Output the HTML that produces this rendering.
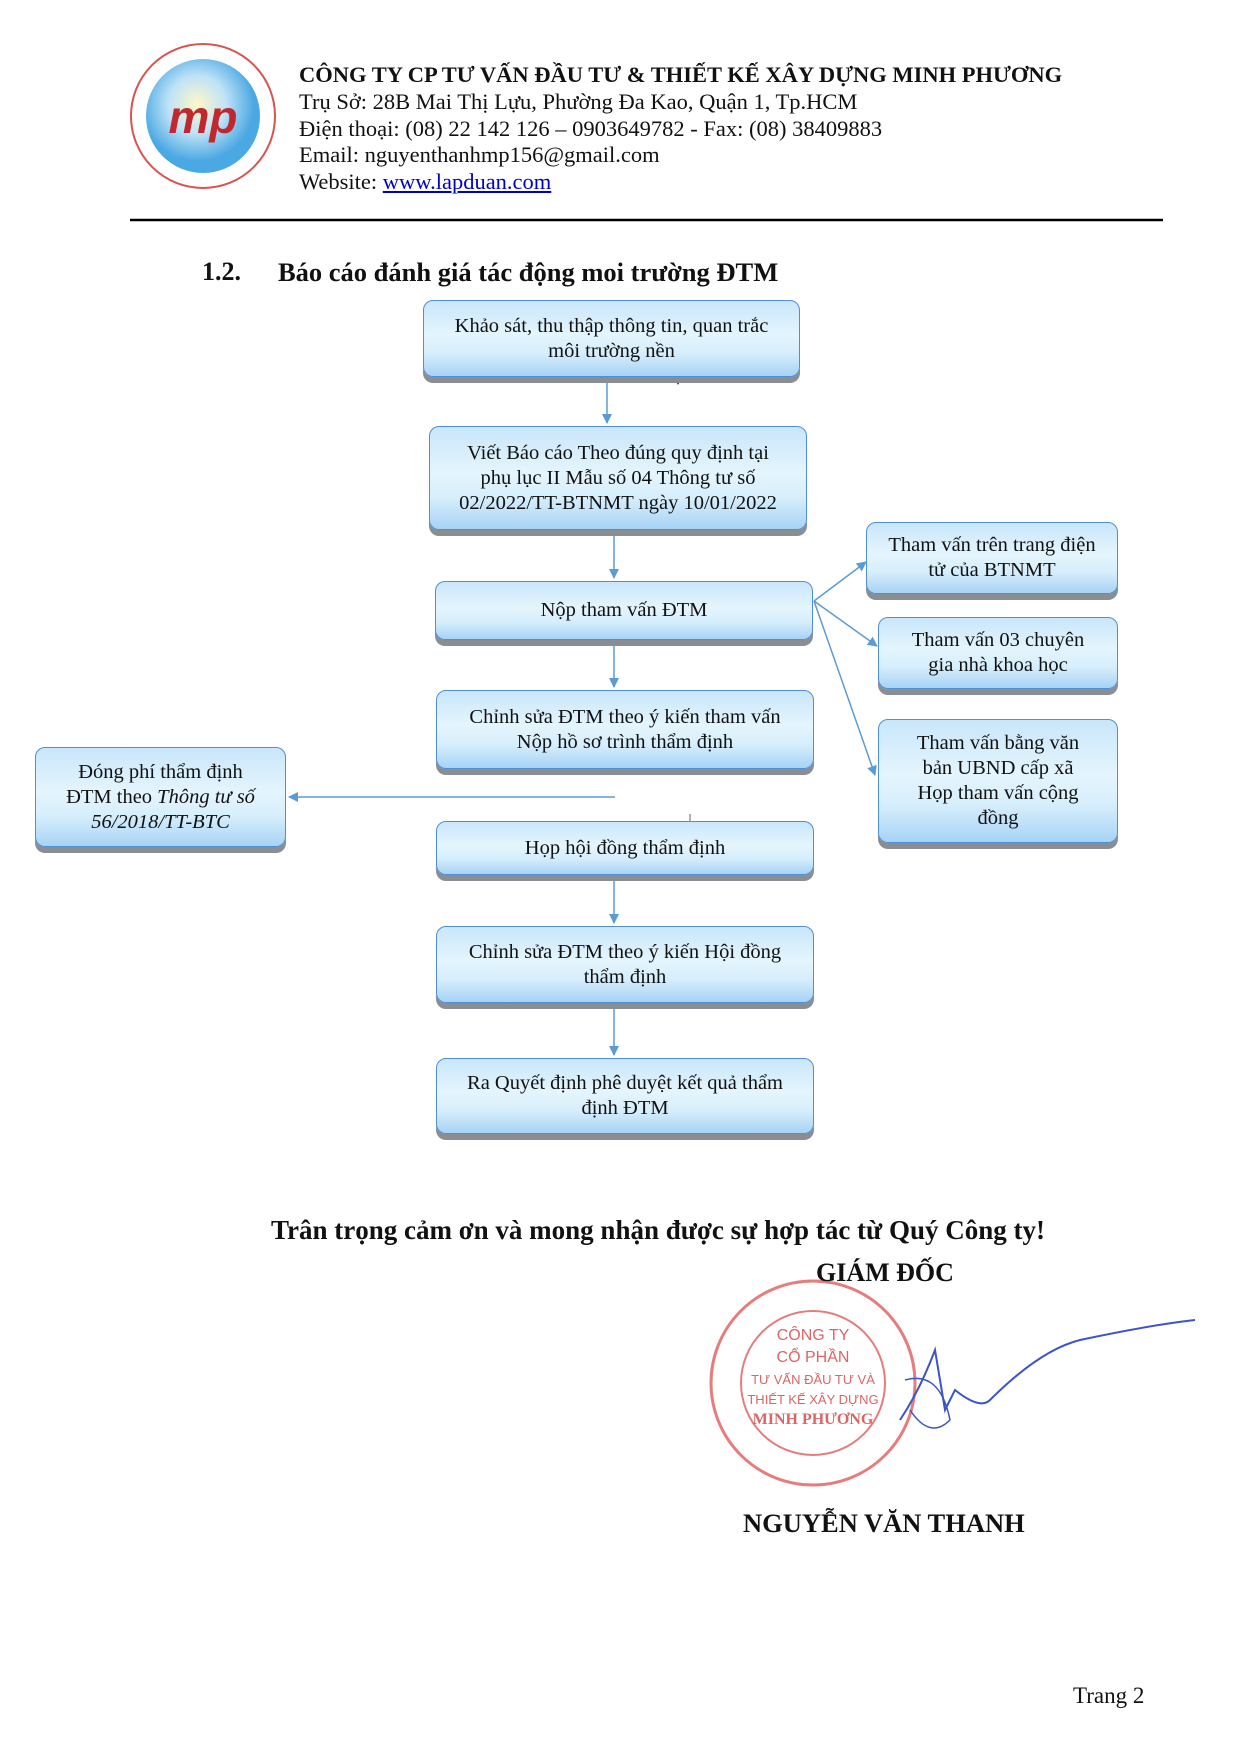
<!DOCTYPE html>
<html><head><meta charset="utf-8"><style>
body{margin:0;width:1241px;height:1754px;background:#fff;position:relative;font-family:"Liberation Serif","Noto Serif CJK SC",serif;color:#111;overflow:hidden}
.a{position:absolute;white-space:nowrap}
.b{position:absolute;box-sizing:border-box;border:1.5px solid #4f8fd8;border-radius:10px;background:linear-gradient(#c9e6fb 0%,#e4f5fd 45%,#d6eefc 70%,#a7d3f5 100%);box-shadow:0 6px 0 #8a8e93;display:flex;align-items:center;justify-content:center;text-align:center;font-size:20.5px;line-height:25px;padding:0 6px;white-space:nowrap}
.h{font-size:22.5px;line-height:27px}
</style></head><body>
<svg class="a" style="left:0;top:0" width="1241" height="1754">
<defs><marker id="m" markerWidth="10" markerHeight="10" refX="9" refY="5" orient="auto" markerUnits="userSpaceOnUse"><path d="M0,0 L10,5 L0,10 z" fill="#5b9bd5"/></marker>
<radialGradient id="g" cx="45%" cy="40%"><stop offset="0" stop-color="#fff7c8"/><stop offset=".5" stop-color="#bfe3f7"/><stop offset="1" stop-color="#4aa8e3"/></radialGradient></defs>
<circle cx="203" cy="116" r="72" fill="#fff" stroke="#d9534f" stroke-width="2"/>
<circle cx="203" cy="116" r="57" fill="url(#g)"/>
<text x="203" y="133" font-family="Liberation Sans" font-weight="bold" font-style="italic" font-size="46" fill="#c0282d" text-anchor="middle">mp</text>
<line x1="130" y1="220" x2="1163" y2="220" stroke="#000" stroke-width="2.5"/>
<g stroke="#5b9bd5" stroke-width="1.5" fill="none">
<line x1="607" y1="380" x2="607" y2="423" marker-end="url(#m)"/>
<line x1="614" y1="534" x2="614" y2="578" marker-end="url(#m)"/>
<line x1="614" y1="642" x2="614" y2="687" marker-end="url(#m)"/>
<line x1="615" y1="797" x2="289" y2="797" marker-end="url(#m)"/>
<line x1="614" y1="877" x2="614" y2="923" marker-end="url(#m)"/>
<line x1="614" y1="1005" x2="614" y2="1055" marker-end="url(#m)"/>
<line x1="814" y1="601" x2="866" y2="562" marker-end="url(#m)"/>
<line x1="814" y1="601" x2="877" y2="646" marker-end="url(#m)"/>
<line x1="814" y1="601" x2="875" y2="775" marker-end="url(#m)"/>
<line x1="690" y1="814" x2="690" y2="821" stroke="#999"/>
</g>
<path d="M674,377 L682,377 L678,385 z" fill="#111"/>
<circle cx="813" cy="1383" r="102" fill="none" stroke="#e05b5b" stroke-width="3" opacity=".8"/>
<circle cx="813" cy="1383" r="72" fill="none" stroke="#e05b5b" stroke-width="2" opacity=".8"/>
<g font-family="Liberation Sans" font-size="16" fill="#d84a4a" text-anchor="middle" opacity=".85">
<text x="813" y="1340">CÔNG TY</text><text x="813" y="1362">CỔ PHẦN</text><text x="813" y="1384" font-size="13">TƯ VẤN ĐẦU TƯ VÀ</text><text x="813" y="1404" font-size="13">THIẾT KẾ XÂY DỰNG</text><text x="813" y="1424" font-family="Liberation Serif" font-weight="bold">MINH PHƯƠNG</text></g>
<path d="M900,1420 Q920,1390 935,1350 L945,1410 L955,1390 Q980,1410 990,1400 Q1040,1350 1080,1340 Q1150,1325 1195,1320" fill="none" stroke="#3b55c8" stroke-width="2"/>
<path d="M905,1380 Q940,1370 950,1420 Q930,1440 910,1410" fill="none" stroke="#3b55c8" stroke-width="1.5"/>
</svg>
<div class="a h" style="left:299px;top:61px;font-weight:bold">CÔNG TY CP TƯ VẤN ĐẦU TƯ &amp; THIẾT KẾ XÂY DỰNG MINH PHƯƠNG</div>
<div class="a h" style="left:299px;top:88px">Trụ Sở: 28B Mai Thị Lựu, Phường Đa Kao, Quận 1, Tp.HCM</div>
<div class="a h" style="left:299px;top:115px">Điện thoại: (08) 22 142 126 – 0903649782 - Fax: (08) 38409883</div>
<div class="a h" style="left:299px;top:141px">Email: nguyenthanhmp156@gmail.com</div>
<div class="a h" style="left:299px;top:168px">Website: <span style="color:#00c;text-decoration:underline">www.lapduan.com</span></div>
<div class="a" style="left:202px;top:257px;font-size:26px;font-weight:bold">1.2.</div>
<div class="a" style="left:278px;top:257px;font-size:26.5px;font-weight:bold">Báo cáo đánh giá tác động moi trường ĐTM</div>
<div class="b" style="left:423px;top:300px;width:377px;height:77px"><div>Khảo sát, thu thập thông tin, quan trắc<br>môi trường nền</div></div>
<div class="b" style="left:429px;top:426px;width:378px;height:104px"><div>Viết Báo cáo Theo đúng quy định tại<br>phụ lục II Mẫu số 04 Thông tư số<br>02/2022/TT-BTNMT ngày 10/01/2022</div></div>
<div class="b" style="left:435px;top:581px;width:378px;height:59px"><div>Nộp tham vấn ĐTM</div></div>
<div class="b" style="left:436px;top:690px;width:378px;height:79px"><div>Chỉnh sửa ĐTM theo ý kiến tham vấn<br>Nộp hồ sơ trình thẩm định</div></div>
<div class="b" style="left:35px;top:747px;width:251px;height:100px"><div>Đóng phí thẩm định<br>ĐTM theo <i>Thông tư số</i><br><i>56/2018/TT-BTC</i></div></div>
<div class="b" style="left:436px;top:821px;width:378px;height:54px"><div>Họp hội đồng thẩm định</div></div>
<div class="b" style="left:436px;top:926px;width:378px;height:77px"><div>Chỉnh sửa ĐTM theo ý kiến Hội đồng<br>thẩm định</div></div>
<div class="b" style="left:436px;top:1058px;width:378px;height:76px"><div>Ra Quyết định phê duyệt kết quả thẩm<br>định ĐTM</div></div>
<div class="b" style="left:866px;top:522px;width:252px;height:72px"><div>Tham vấn trên trang điện<br>tử của BTNMT</div></div>
<div class="b" style="left:878px;top:617px;width:240px;height:72px"><div>Tham vấn 03 chuyên<br>gia nhà khoa học</div></div>
<div class="b" style="left:878px;top:719px;width:240px;height:124px"><div>Tham vấn bằng văn<br>bản UBND cấp xã<br>Họp tham vấn cộng<br>đồng</div></div>
<div class="a" style="left:0;width:1316px;text-align:center;top:1215px;font-size:27px;font-weight:bold">Trân trọng cảm ơn và mong nhận được sự hợp tác từ Quý Công ty!</div>
<div class="a" style="left:816px;top:1258px;font-size:26px;font-weight:bold">GIÁM ĐỐC</div>
<div class="a" style="left:743px;top:1508px;font-size:26.5px;font-weight:bold">NGUYỄN VĂN THANH</div>
<div class="a" style="left:1073px;top:1683px;font-size:23px">Trang 2</div>
</body></html>
